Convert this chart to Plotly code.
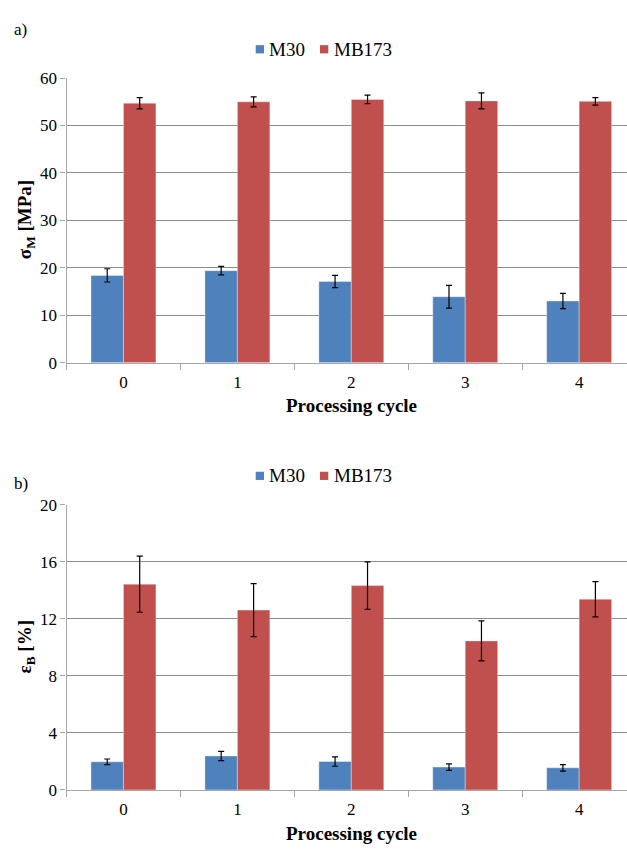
import plotly.graph_objects as go

# Processing cycles on the category axis
cycles = ["0", "1", "2", "3", "4"]

# a) tensile strength sigma_M [MPa]
sigma_m30 = [18.4, 19.4, 17.1, 13.9, 13.0]
sigma_m30_err = [1.4, 0.9, 1.3, 2.4, 1.6]
sigma_mb173 = [54.7, 55.0, 55.5, 55.2, 55.1]
sigma_mb173_err = [1.2, 1.05, 0.9, 1.7, 0.8]

# b) elongation at break epsilon_B [%]
eps_m30 = [1.97, 2.38, 1.99, 1.60, 1.55]
eps_m30_err = [0.2, 0.33, 0.33, 0.23, 0.23]
eps_mb173 = [14.44, 12.62, 14.34, 10.46, 13.38]
eps_mb173_err = [1.97, 1.86, 1.66, 1.40, 1.24]

series_names = ["M30", "MB173"]
colors = ["#4F81BD", "#C0504D"]

W, H = 627, 852
FONT = "Liberation Serif"
GRID = "#8C8C8C"
AXIS = "#A6A6A6"


def py(px):
    """Convert a pixel row (from top) into a paper y fraction."""
    return 1 - px / H


def px_x(px):
    return px / W


fig = go.Figure()

panels = [
    ("x", "y", sigma_m30, sigma_m30_err, sigma_mb173, sigma_mb173_err),
    ("x2", "y2", eps_m30, eps_m30_err, eps_mb173, eps_mb173_err),
]

for xa, ya, v1, e1, v2, e2 in panels:
    for name, vals, errs, col in [(series_names[0], v1, e1, colors[0]),
                                  (series_names[1], v2, e2, colors[1])]:
        fig.add_trace(go.Bar(
            x=cycles, y=vals, name=name, xaxis=xa, yaxis=ya,
            showlegend=False,
            marker=dict(color=col, line=dict(width=0.8,
                                             color="rgba(255,255,255,0.45)")),
            error_y=dict(type="data", array=errs, visible=True,
                         color="black", thickness=1.2, width=3),
        ))

xcommon = dict(
    type="category", range=[-0.5, 4.42], domain=[px_x(66.5), 1],
    showline=True, linecolor=AXIS, linewidth=1.3,
    ticks="outside", tickson="boundaries", ticklen=6, tickcolor=AXIS,
    tickfont=dict(family=FONT, size=17, color="black"),
    ticklabelstandoff=4,
    showgrid=False, zeroline=False, fixedrange=True,
)
ycommon = dict(
    showline=True, linecolor=AXIS, linewidth=1.3,
    ticks="outside", ticklen=5, tickcolor=AXIS,
    tickfont=dict(family=FONT, size=17, color="black"),
    showgrid=True, gridcolor=GRID, gridwidth=1,
    zeroline=False, fixedrange=True,
)

fig.update_layout(
    width=W, height=H,
    margin=dict(l=0, r=0, t=0, b=0),
    paper_bgcolor="white", plot_bgcolor="white",
    barmode="group", bargap=0.43, bargroupgap=0,
    font=dict(family=FONT, size=17, color="black"),
    xaxis=dict(xcommon, anchor="y"),
    xaxis2=dict(xcommon, anchor="y2"),
    yaxis=dict(ycommon, anchor="x", range=[0, 60], dtick=10,
               domain=[py(361.7), py(70.7)]),
    yaxis2=dict(ycommon, anchor="x2", range=[0, 20], dtick=4,
                domain=[py(798.7), py(507.3)]),
    showlegend=False,
)

annotations = [
    dict(text="a)", x=px_x(12), y=py(21), xanchor="left", yanchor="middle",
         font=dict(size=17)),
    dict(text="b)", x=px_x(12), y=py(485), xanchor="left", yanchor="middle",
         font=dict(size=17)),
    dict(text="<b>Processing cycle</b>", x=px_x(351), y=py(406),
         xanchor="center", yanchor="middle", font=dict(size=19)),
    dict(text="<b>Processing cycle</b>", x=px_x(351), y=py(843),
         xanchor="center", yanchor="middle", font=dict(size=19)),
    dict(text="<b>σ<sub>M</sub> [MPa]</b>", x=px_x(26), y=py(216),
         xanchor="center", yanchor="middle", textangle=-90,
         font=dict(size=19)),
    dict(text="<b>ε<sub>B</sub> [%]</b>", x=px_x(26), y=py(653),
         xanchor="center", yanchor="middle", textangle=-90,
         font=dict(size=19)),
]

# Legend rows drawn as small swatches with labels, one row per panel
legend_rows = [41.2, 477.5]
swatch_x = [255.7, 320.0]
label_x = [266.5, 331.5]
for row in legend_rows:
    for name, col, sx, lx in zip(series_names, colors, swatch_x, label_x):
        fig.add_shape(type="rect", xref="paper", yref="paper",
                      x0=px_x(sx), x1=px_x(sx + 8.3),
                      y0=py(row + 4.2), y1=py(row - 4.2),
                      fillcolor=col, line=dict(width=0))
        annotations.append(dict(text=name, x=px_x(lx), y=py(row),
                                xanchor="left", yanchor="middle",
                                font=dict(size=19)))

for a in annotations:
    a.update(xref="paper", yref="paper", showarrow=False)
    fig.add_annotation(**a)

fig.write_html("out.html")
